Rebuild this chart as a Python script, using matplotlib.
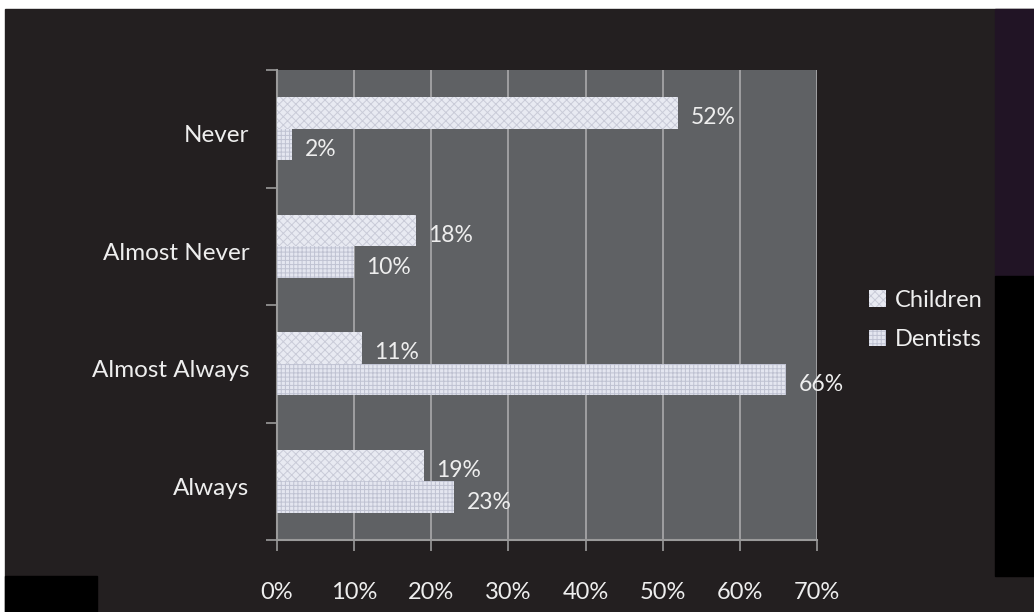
import matplotlib.pyplot as plt
import matplotlib.patches as mpatches
import matplotlib.transforms as mtransforms
import numpy as np

plt.rcParams['font.family'] = ['Lato', 'DejaVu Sans']
plt.rcParams['hatch.linewidth'] = 0.7

categories = ['Always', 'Almost Always', 'Almost Never', 'Never']
children = [19, 11, 18, 52]
dentists = [23, 66, 10, 2]
x_ticks = [0, 10, 20, 30, 40, 50, 60, 70]

bg = '#231f20'
fig = plt.figure(figsize=(10.34, 6.12), dpi=100, facecolor='white')
W, H = 1034, 612

# dark slide background and side panels
fig.add_artist(mpatches.Rectangle((5 / W, 0), 1, 1 - 9 / H, transform=fig.transFigure,
                                  color=bg, zorder=-5))
fig.add_artist(mpatches.Rectangle((995 / W, 1 - 276 / H), 40 / W, 267 / H,
                                  transform=fig.transFigure, color='#211425', zorder=-4))
fig.add_artist(mpatches.Rectangle((995 / W, 1 - 576 / H), 40 / W, 300 / H,
                                  transform=fig.transFigure, color='black', zorder=-4))
fig.add_artist(mpatches.Rectangle((5 / W, 0), 92 / W, 36 / H,
                                  transform=fig.transFigure, color='black', zorder=-4))

ax = fig.add_axes([277 / W, 1 - 540 / H, 540 / W, 470 / H])
ax.set_facecolor('#5f6164')

y = np.arange(len(categories))
h = 0.27
bc = ax.barh(y + h / 2, children, height=h, color='#e8eaf2', edgecolor='#c9cbd8',
             hatch='xxxx', linewidth=0, zorder=3, label='Children')
bd = ax.barh(y - h / 2, dentists, height=h, color='#e4e6f0', edgecolor='#bfc2d2',
             hatch='++++', linewidth=0, zorder=3, label='Dentists')

# text sits a few pixels below centre
down = mtransforms.ScaledTranslation(0, -5 / 100, fig.dpi_scale_trans)

for bars, vals in ((bc, children), (bd, dentists)):
    for b, v in zip(bars, vals):
        ax.text(v + 1.6, b.get_y() + b.get_height() / 2, f'{v}%',
                va='center', ha='left', color='#eeeeee', fontsize=16.5, zorder=4,
                transform=ax.transData + down)

ax.set_xlim(0, 70)
ax.set_ylim(-0.5, len(categories) - 0.5)
ax.set_xticks(x_ticks)
ax.set_xticklabels([f'{t}%' for t in x_ticks])
ax.set_yticks(y)
ax.set_yticklabels(categories)
ax.set_yticks(np.arange(-0.5, len(categories), 1), minor=True)
ax.tick_params(axis='y', which='major', length=0, pad=20, labelsize=17.5, labelcolor='#eeeeee')
ax.tick_params(axis='y', which='minor', length=8, width=1.2, color='#9a9a9a', direction='out')
ax.tick_params(axis='x', length=8, width=1.2, color='#9a9a9a', pad=22,
               labelsize=17, labelcolor='#eeeeee')
for lab in ax.get_yticklabels():
    lab.set_transform(lab.get_transform() + down)
ax.grid(axis='x', color='#a4a4a6', linewidth=1.3, zorder=1)
for s in ('top', 'right'):
    ax.spines[s].set_visible(False)
for s in ('left', 'bottom'):
    ax.spines[s].set_color('#9a9a9a')
    ax.spines[s].set_linewidth(1.5)

leg = fig.legend(handles=[bc, bd], labels=['Children', 'Dentists'],
                 loc='center left', bbox_to_anchor=(848 / W, 1 - 320 / H),
                 frameon=False, fontsize=17, labelcolor='#eeeeee',
                 handlelength=0.7, handleheight=0.7, handletextpad=0.4, labelspacing=0.8)

fig.savefig('out.png', dpi=100, facecolor=fig.get_facecolor())
